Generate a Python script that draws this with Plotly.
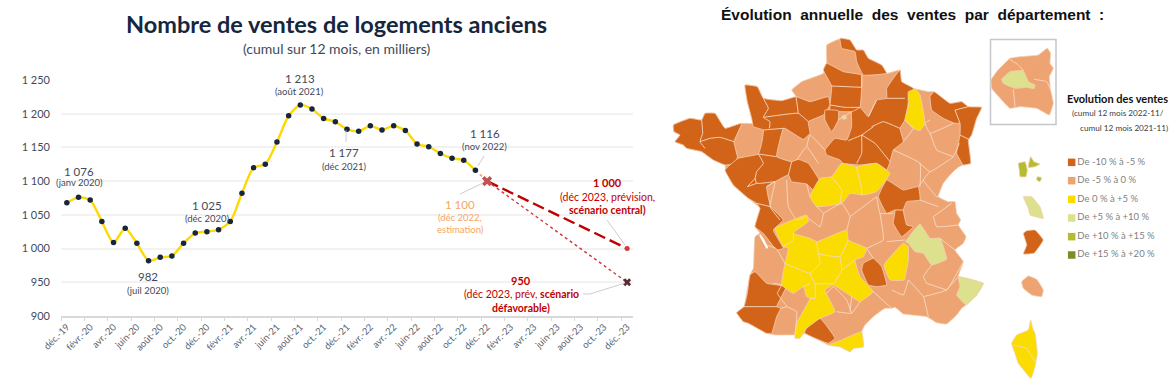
import plotly.graph_objects as go

W, H = 1171, 391

# ---------- left chart data ----------
months = ["déc.-19","janv.-20","févr.-20","mars-20","avr.-20","mai-20","juin-20","juil.-20","août-20","sept.-20","oct.-20","nov.-20",
          "déc.-20","janv.-21","févr.-21","mars-21","avr.-21","mai-21","juin-21","juil.-21","août-21","sept.-21","oct.-21","nov.-21",
          "déc.-21","janv.-22","févr.-22","mars-22","avr.-22","mai-22","juin-22","juil.-22","août-22","sept.-22","oct.-22","nov.-22",
          "déc.-22","janv.-23","févr.-23","mars-23","avr.-23","mai-23","juin-23","juil.-23","août-23","sept.-23","oct.-23","nov.-23","déc.-23"]
sales = [1068,1076,1072,1040,1009,1030,1008,982,987,989,1008,1023,1025,1028,1040,1082,1120,1125,1158,1197,1213,1207,1193,1188,
         1177,1174,1182,1176,1182,1175,1155,1151,1141,1134,1131,1116]
estimate_x = ["nov.-22","déc.-22"]
estimate_y = [1116,1100]
central_x = ["déc.-22","déc.-23"]
central_y = [1100,1000]
adverse_x = ["déc.-22","déc.-23"]
adverse_y = [1100,950]
y_ticks = [900,950,1000,1050,1100,1150,1200,1250]
y_labels = ["900","950","1 000","1 050","1 100","1 150","1 200","1 250"]

# ---------- map data (traced outlines, map units) ----------
france = [(530,120),(545,115),(570,120),(590,150),(610,150),(625,175),(665,195),(680,220),(720,210),(725,245),(760,265),(805,275),(822,275),
 (870,310),(905,305),(925,320),(965,322),(950,355),(935,405),(925,420),(932,490),(910,495),(898,500),(885,510),(870,525),(850,550),(835,590),(865,605),
 (885,605),(890,640),(902,660),(895,675),(918,710),(910,730),(885,750),(910,785),(895,830),(970,850),(950,885),(918,915),(905,925),(890,945),
 (860,972),(830,968),(800,950),(755,945),(730,942),(705,922),(695,925),(675,925),(640,950),(615,975),(605,995),(610,1040),(580,1045),(570,1055),
 (540,1040),(505,1035),(435,1000),(415,1010),(405,1005),(345,1005),(320,1000),(265,970),(250,965),(230,938),(252,920),(260,880),(270,825),(280,805),
 (285,710),(300,700),(285,680),(300,625),(265,595),(220,555),(197,510),(195,495),(160,480),(125,455),(80,445),(70,435),(45,425),(60,405),(42,395),(40,375),
 (90,355),(125,360),(135,340),(165,340),(195,385),(245,370),(280,370),(275,355),(262,305),(255,255),(292,260),(310,295),(365,302),(408,290),(395,270),(425,245),(490,220),
 (500,190),(500,135)]
dark = [
 [(40,375),(90,355),(125,360),(135,340),(165,340),(195,385),(245,370),(222,425),(232,470),(228,490),(195,495),(160,480),(125,455),(80,445),(70,435),(45,425),(60,405),(42,395)],
 [(255,255),(292,260),(310,295),(365,302),(408,290),(450,305),(505,290),(510,315),(490,345),(445,365),(450,400),(430,418),(375,385),(370,385),(350,470),(395,485),(415,478),(445,490),(480,545),(465,575),(440,552),(395,545),(385,525),(345,545),(320,560),(332,620),(370,660),(340,690),(370,745),(350,750),(310,700),(285,680),(300,625),(290,610),(265,595),(220,555),(195,510),(235,475),(295,462),(305,430),(310,390),(280,380),(275,355),(262,305)],
 [(680,265),(720,210),(725,245),(760,265),(745,310),(735,360),(720,385),(730,425),(700,450),(690,485),(680,510),(650,490),(600,495),(550,490),(540,480),(500,465),(495,450),(525,415),(560,420),(575,380),(575,330),(600,322),(625,350),(650,300),(680,295)],
 [(500,190),(550,215),(605,225),(605,262),(600,322),(575,335),(510,332),(510,315),(515,258),(490,210)],
 [(495,330),(535,332),(535,360),(515,395),(495,360)],
 [(540,115),(570,120),(590,150),(610,150),(625,175),(665,195),(680,220),(610,225),(590,185),(585,155),(545,145)],
 [(810,290),(822,275),(870,310),(905,305),(925,320),(965,322),(950,355),(935,405),(925,420),(932,490),(910,495),(890,460),(900,405),(900,370),(885,370),(850,355),(815,330)],
 [(655,590),(680,540),(730,570),(775,560),(780,600),(740,605),(730,630),(740,675),(760,680),(725,710),(700,670),(705,630),(680,640)],
 [(270,825),(285,815),(320,850),(378,860),(350,920),(362,925),(350,950),(335,1000),(320,1000),(265,970),(250,965),(230,938),(252,920),(262,880)],
 [(435,985),(480,955),(525,1015),(505,1030),(435,1000)],
 [(610,790),(640,775),(665,800),(680,855),(650,860),(625,855),(605,810)],
 [(1100,692),(1125,690),(1150,720),(1122,760),(1090,762),(1100,735),(1090,700)],
]
yellow = [
 [(745,275),(768,268),(780,285),(795,370),(780,392),(760,385),(735,360),(745,320)],
 [(450,590),(480,535),(515,530),(545,490),(590,500),(650,490),(690,520),(650,575),(610,585),(570,580),(545,610),(470,620)],
 [(345,685),(440,645),(445,665),(410,690),(400,700),(450,715),(470,725),(560,690),(565,720),(620,745),(610,770),(585,780),(600,830),(640,875),(600,905),(575,890),(520,855),(495,870),(525,935),(480,955),(440,985),(420,1015),(405,1015),(410,970),(450,895),(440,890),(430,860),(400,880),(365,855),(375,790),(385,745),(370,740)],
 [(505,1035),(545,1020),(605,995),(610,1040),(580,1045),(570,1055),(540,1040)],
 [(672,795),(730,730),(745,740),(745,780),(732,840),(690,840)],
 [(1112,960),(1118,985),(1125,1000),(1132,1060),(1125,1100),(1113,1135),(1095,1115),(1075,1090),(1065,1060),(1055,1030),(1070,1005),(1105,990)],
]
pale_green = [
 [(737,725),(780,672),(810,715),(840,715),(860,778),(815,795),(790,760),(765,755),(745,730)],
 [(895,830),(970,850),(950,885),(918,915),(890,885),(900,860)],
 [(1090,590),(1115,590),(1140,620),(1150,655),(1125,650),(1110,645),(1105,625)],
 [(1025,238),(1050,215),(1090,212),(1105,245),(1125,255),(1122,266),(1100,262),(1065,265),(1030,250)],
 [(545,350),(555,345),(560,355),(550,358)],
]
olive = [
 [(1075,490),(1095,485),(1102,510),(1098,530),(1080,530),(1078,510)],
 [(1112,470),(1122,485),(1140,492),(1125,500),(1105,502)],
 [(1132,530),(1145,533),(1140,545),(1130,540)],
]
light_extra = [
 [(993,240),(1010,215),(1050,175),(1080,170),(1135,165),(1162,145),(1172,160),(1170,190),(1180,205),(1168,230),(1172,270),(1180,310),(1168,345),(1130,325),(1080,320),(1050,325),(1025,300),(995,265)],
 [(1105,828),(1130,838),(1150,870),(1145,890),(1115,885),(1090,865),(1085,845)],
]
borders = [
 [(605,225),(605,262)],[(625,350),(650,300)],[(735,360),(760,385),(730,425)],
 [(700,450),(780,490),(780,560)],[(780,490),(810,515),(880,470),(898,430)],[(810,360),(795,370),(810,400),(880,370)],
 [(810,400),(830,450),(880,470)],[(810,515),(790,540),(830,590),(835,590)],[(790,540),(775,560)],[(780,600),(835,620)],
 [(820,650),(875,610)],[(820,650),(830,680),(895,675)],[(840,715),(885,750)],[(745,840),(790,890),(805,950)],
 [(790,890),(860,870),(910,785)],[(860,870),(895,830)],[(815,795),(790,830),(800,850)],[(800,850),(860,870)],
 [(640,875),(695,925)],[(600,905),(575,940),(530,935)],[(575,890),(570,935)],[(695,870),(730,885),(745,840)],
 [(470,620),(490,640),(480,680),(440,650)],[(490,640),(545,610),(570,650),(560,690)],[(570,650),(650,590)],[(650,590),(660,640),(700,640)],
 [(660,640),(670,720),(620,745)],[(620,745),(640,775)],[(680,725),(735,720)],[(380,540),(385,620),(410,660),(440,650)],
 [(320,560),(345,545),(330,620),(360,660)],[(440,552),(450,590)],[(410,480),(440,440),(475,490)],
 [(440,440),(450,405),(495,450)],[(535,360),(575,335)],[(300,705),(320,735),(348,745),(375,790)],
 [(340,850),(365,855),(352,880),(380,920),(362,925)],[(380,920),(410,935),(405,1005)],[(500,880),(520,860),(560,900),(575,940)],
 [(1050,178),(1075,195),(1090,212)],[(1122,238),(1160,245),(1172,270)],[(1060,268),(1065,320)],
 # inside the single-colour groups
 [(125,360),(128,400),(120,425),(135,445)],[(120,425),(150,415),(180,412),(222,425)],
 [(310,295),(325,325),(310,352),(330,365),(328,385)],[(310,352),(415,340),(445,365)],[(408,290),(415,340)],[(310,390),(370,385)],
 [(295,462),(310,490),(290,515),(285,535),(262,560)],[(295,462),(350,470)],[(345,545),(290,550),(285,535)],[(262,560),(290,550)],[(290,610),(332,620)],[(395,485),(385,525)],
 [(680,295),(735,295)],[(635,380),(670,365),(720,385)],[(605,405),(645,430),(690,485)],[(640,380),(605,405),(565,422)],[(605,405),(605,460),(590,490)],
 [(515,258),(605,262)],[(510,315),(555,322),(600,322)],[(885,330),(925,320)],[(885,330),(900,370)],[(900,405),(930,420)],
 [(515,530),(545,570),(540,610)],[(590,500),(605,570),(605,585)],[(705,630),(730,630)],[(252,920),(350,920)],
 [(370,740),(400,720),(400,700)],[(470,725),(475,760),(480,790),(450,820),(375,790)],[(490,765),(540,770),(565,720)],[(475,760),(490,765)],
 [(540,770),(545,810),(520,850),(465,850),(450,820)],[(450,850),(430,860)],[(465,850),(465,895),(450,895)],[(545,810),(585,780)],
 [(1060,1035),(1100,1045),(1125,1085)],
]
estuary = [[(300,705),(310,720),(322,745)]]
legend_labels = ["De -10 % à -5 %","De -5 % à 0 %","De 0 % à +5 %","De +5 % à +10 %","De +10 % à +15 %","De +15 % à +20 %"]
legend_colors = ["#D2641A","#EDA472","#FBDC00","#DDE08C","#B4BD2F","#7D8B28"]
legend_x = [1235]*6
legend_y = [487,542,598,654,710,765]

NAVY = "#16263D"
TXT = "#3F4A5A"
RED = "#C00000"
ORANGE = "#F5A566"

def flat(polys):
    xs, ys = [], []
    for p in polys:
        xs += [a for a, _ in p] + [p[0][0], None]
        ys += [b for _, b in p] + [p[0][1], None]
    return xs, ys

fig = go.Figure()

# line chart
fig.add_trace(go.Scatter(x=estimate_x, y=estimate_y, mode="lines", line=dict(color=ORANGE, width=1.6, dash="dot"), showlegend=False))
fig.add_trace(go.Scatter(x=central_x, y=central_y, mode="lines", line=dict(color=RED, width=2.4, dash="12px,5px"), showlegend=False))
fig.add_trace(go.Scatter(x=adverse_x, y=adverse_y, mode="lines", line=dict(color="#D0343A", width=1.4, dash="dot"), showlegend=False))
fig.add_trace(go.Scatter(x=months[:len(sales)], y=sales, mode="lines+markers",
    line=dict(color="#FFD800", width=2.4, shape="spline", smoothing=0.7),
    marker=dict(color=NAVY, size=5.5), showlegend=False))
fig.add_trace(go.Scatter(x=["déc.-22"], y=[1100], mode="markers", marker=dict(color="#C8504F", size=9, symbol="x", line=dict(width=0)), showlegend=False))
fig.add_trace(go.Scatter(x=["déc.-23"], y=[1000], mode="markers", marker=dict(color="#D23B3B", size=5, symbol="circle"), showlegend=False))
fig.add_trace(go.Scatter(x=["déc.-23"], y=[950], mode="markers", marker=dict(color="#5A2A33", size=7, symbol="x", line=dict(width=0)), showlegend=False))

# map: one filled trace per polygon so that overlaps never cancel out
def polys(ps, color):
    for p in ps:
        xs, ys = flat([p])
        fig.add_trace(go.Scatter(x=xs, y=ys, xaxis="x2", yaxis="y2", mode="lines", fill="toself", fillcolor=color,
            line=dict(color="#F4CFB2", width=0.8, shape="spline", smoothing=0.3), hoverinfo="skip", showlegend=False))

polys([france] + light_extra, "#EDA472")
polys(dark, "#D2641A")
polys(yellow, "#FBDC00")
polys(pale_green, "#DDE08C")
polys(olive, "#B4BD2F")
bx, by = [], []
for b in borders:
    bx += [a for a, _ in b] + [None]
    by += [c for _, c in b] + [None]
fig.add_trace(go.Scatter(x=bx, y=by, xaxis="x2", yaxis="y2", mode="lines", line=dict(color="#F6D9C2", width=0.9, shape="spline", smoothing=0.3),
                         hoverinfo="skip", showlegend=False))
ex, ey = flat(estuary)
fig.add_trace(go.Scatter(x=ex, y=ey, xaxis="x2", yaxis="y2", mode="lines", line=dict(color="white", width=2),
                         hoverinfo="skip", showlegend=False))
fig.add_trace(go.Scatter(x=legend_x, y=legend_y, xaxis="x2", yaxis="y2", mode="markers+text",
    marker=dict(symbol="square", size=7.5, color=legend_colors), text=legend_labels, textposition="middle right",
    textfont=dict(family="Lato", size=9.5, color="#7F7F7F"), hoverinfo="skip", showlegend=False))

def px(x): return x / W
def py(y): return 1 - y / H

def label(x, y, text, size=10, color=TXT, bold=False, font="Lato"):
    t = f"<b>{text}</b>" if bold else text
    fig.add_annotation(x=px(x), y=py(y), xref="paper", yref="paper", text=t, showarrow=False,
                       font=dict(family=font, size=size, color=color), xanchor="center", yanchor="middle")

label(337, 24, "Nombre de ventes de logements anciens", 23.5, NAVY, True)
label(337, 48, "(cumul sur 12 mois, en milliers)", 14)
for x, y1, y2, a, b in [(79,171,183,"1 076","(janv 2020)"),(300,78,91,"1 213","(août 2021)"),(207,205,218,"1 025","(déc 2020)"),
                        (148,276,290,"982","(juil 2020)"),(344,153,166,"1 177","(déc 2021)"),(485,133,146,"1 116","(nov 2022)")]:
    label(x, y1, a, 11.5)
    label(x, y2, b, 9.5)
label(460, 204, "1 100", 11.5, ORANGE)
label(460, 217, "(déc 2022,", 9.5, ORANGE)
label(460, 229, "estimation)", 9.5, ORANGE)
label(607, 182, "1 000", 11, RED, True)
label(607, 197, "(déc 2023, prévision,", 10.5, RED)
label(607, 210, "scénario central)", 10.5, RED, True)
label(521, 280, "950", 11, RED, True)
label(521, 294, "(déc 2023, prév, <b>scénario</b>", 10.5, RED)
label(521, 308, "défavorable)", 10.5, RED, True)

label(912, 15, "Évolution  annuelle  des  ventes  par  département  :", 15.5, "#111111", True, "Liberation Sans")
label(1117, 98, "Evolution des ventes", 11, "#111111", True)
label(1118, 113, "(cumul 12 mois 2022-11/", 8.2, "#404040")
label(1124, 128, "cumul 12 mois 2021-11)", 8.2, "#404040")

shapes = []
for seg in [[(478,166),(484,156)],[(460,194),(483,183)],[(607,220),(625,245)],[(583,294),(590,294),(625,283)],[(346,142),(346,130)]]:
    path = "M " + " L ".join(f"{px(a)} {py(b)}" for a, b in seg)
    shapes.append(dict(type="path", xref="paper", yref="paper", path=path, line=dict(color="#BFBFBF", width=0.8)))
shapes.append(dict(type="rect", xref="paper", yref="paper", x0=px(990.5), x1=px(1056), y0=py(39.5), y1=py(124.5),
                   line=dict(color="#C4C8CC", width=1.5), layer="below"))

fig.update_layout(
    width=W, height=H, autosize=False, margin=dict(l=0, r=0, t=0, b=0),
    paper_bgcolor="white", plot_bgcolor="rgba(0,0,0,0)", shapes=shapes,
    font=dict(family="Lato", color=TXT),
    xaxis=dict(domain=[61/W, 633/W], type="category", categoryorder="array", categoryarray=months, range=[-0.5, 48.5], automargin=False,
               tickmode="linear", tick0=0, dtick=2, tickson="boundaries", ticks="outside", ticklen=3, tickcolor="#D9D9D9",
               tickangle=-45, tickfont=dict(size=9.5, color="#5A6472"), showgrid=False, showline=True, linecolor="#D9D9D9", linewidth=1.5, zeroline=False),
    yaxis=dict(domain=[(H-316)/H, (H-80)/H], range=[900, 1250], tickvals=y_ticks, ticktext=y_labels, showline=False, zeroline=False, automargin=False,
               gridcolor="#F2F2F2", gridwidth=2, tickfont=dict(size=11, color=TXT), ticks="", ticklabelstandoff=10),
    xaxis2=dict(domain=[0, 1], range=[-1980, 1533], visible=False, anchor="y2", fixedrange=True, automargin=False),
    yaxis2=dict(domain=[0, 1], range=[1173, 0], visible=False, anchor="x2", fixedrange=True, automargin=False),
)
# The page body has a default margin that would offset and clip the fixed-size figure.
fig.write_html("out.html", config=dict(displayModeBar=False),
               post_script="document.body.style.margin='0';document.documentElement.style.overflow='hidden';")
